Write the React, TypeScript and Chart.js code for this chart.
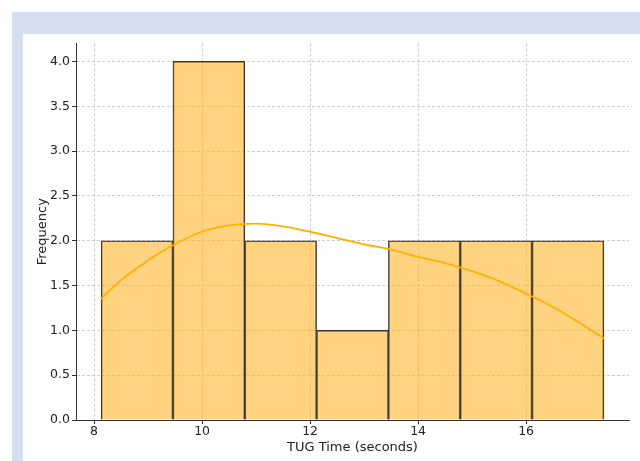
import React, { useEffect, useRef } from "react";
import { Chart, registerables } from "chart.js";

Chart.register(...registerables);

// Histogram bins (TUG time, seconds) and counts
const binEdges = [8.13, 9.46, 10.79, 12.12, 13.45, 14.78, 16.11, 17.44];
const counts = [2, 4, 2, 1, 2, 2, 2];

// KDE curve (scaled to counts)
const kdeX = [8.13, 8.5, 9.0, 9.46, 10.0, 10.5, 11.0, 11.5, 12.0, 12.5, 13.0, 13.5, 14.0, 14.5, 15.0, 15.5, 16.0, 16.5, 17.0, 17.44];
const kdeY = [1.35, 1.56, 1.78, 1.95, 2.1, 2.17, 2.19, 2.16, 2.1, 2.03, 1.96, 1.9, 1.82, 1.75, 1.66, 1.55, 1.41, 1.26, 1.08, 0.91];

const xTicks = [8, 10, 12, 14, 16];
const yTicks = [0, 0.5, 1.0, 1.5, 2.0, 2.5, 3.0, 3.5, 4.0];
const xRange = [7.665, 17.905];
const yRange = [0, 4.2];

const xTitle = "TUG Time (seconds)";
const yTitle = "Frequency";

export default function App() {
  const ref = useRef<HTMLCanvasElement | null>(null);

  useEffect(() => {
    if (!ref.current) return;
    const font = { family: "'DejaVu Sans', sans-serif", size: 12.5 };
    const titleFont = { family: "'DejaVu Sans', sans-serif", size: 13 };
    const barData = counts.map((c, i) => ({ x: (binEdges[i] + binEdges[i + 1]) / 2, y: c }));
    const lineData = kdeX.map((x, i) => ({ x, y: kdeY[i] }));
    const gridCommon = {
      color: "rgba(190,190,190,0.75)",
      lineWidth: 1,
      tickColor: "#333",
      tickLength: 4,
      tickBorderDash: [],
      drawOnChartArea: true,
      offset: false,
    };
    const chart = new Chart(ref.current, {
      type: "bar",
      data: {
        datasets: [
          {
            type: "line",
            data: lineData,
            borderColor: "#FFB000",
            borderWidth: 1.8,
            pointRadius: 0,
            tension: 0.4,
            fill: false,
            order: 0,
          } as any,
          {
            type: "bar",
            data: barData,
            backgroundColor: "rgba(255,168,0,0.5)",
            borderColor: "#333333",
            borderWidth: 1,
            borderSkipped: "start",
            barPercentage: 1,
            categoryPercentage: 1,
            order: 1,
          },
        ],
      },
      options: {
        animation: false,
        responsive: true,
        maintainAspectRatio: false,
        layout: { padding: { top: 8, right: 11, left: 0, bottom: 0 } },
        plugins: { legend: { display: false }, tooltip: { enabled: false } },
        scales: {
          x: {
            type: "linear",
            min: xRange[0],
            max: xRange[1],
            offset: false,
            afterBuildTicks: (s: any) => {
              s.ticks = xTicks.map((v) => ({ value: v }));
            },
            afterFit: (s: any) => {
              s.height = 42;
            },
            grid: gridCommon as any,
            border: { display: true, color: "#333", width: 1, dash: [3, 2] },
            ticks: { font, color: "#222", padding: 0, maxRotation: 0, callback: (v: any) => String(v) },
            title: { display: true, text: xTitle, font: titleFont, color: "#222", padding: { top: 0, bottom: 7 } },
          },
          y: {
            type: "linear",
            min: yRange[0],
            max: yRange[1],
            afterBuildTicks: (s: any) => {
              s.ticks = yTicks.map((v) => ({ value: v }));
            },
            afterFit: (s: any) => {
              s.width = 53;
            },
            grid: gridCommon as any,
            border: { display: true, color: "#333", width: 1, dash: [3, 2] },
            ticks: { font, color: "#222", padding: 2, callback: (v: any) => Number(v).toFixed(1) },
            title: { display: true, text: yTitle, font: titleFont, color: "#222", padding: { top: 12, bottom: 0 } },
          },
        },
      },
    });
    return () => chart.destroy();
  }, []);

  return (
    <div style={{ position: "fixed", left: 12, top: 12, right: 0, bottom: 0, background: "#d4e0f2" }}>
      <div style={{ position: "absolute", left: 11, top: 22, right: 0, bottom: 0, background: "#ffffff" }}>
        <div style={{ position: "absolute", left: 0, top: 0, width: 617, height: 428 }}>
          <canvas ref={ref} />
        </div>
      </div>
    </div>
  );
}
